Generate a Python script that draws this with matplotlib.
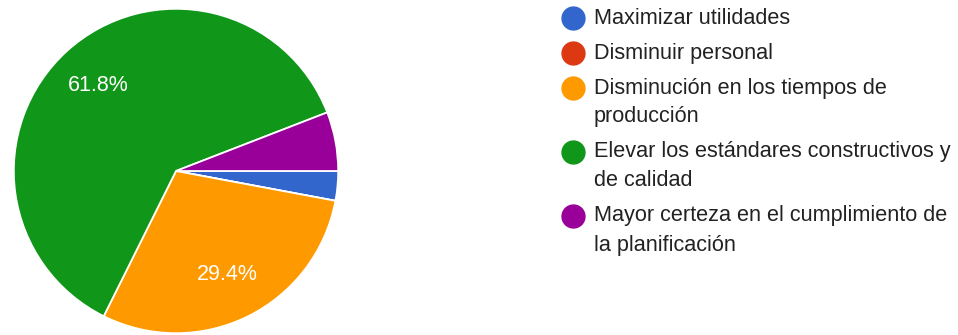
import matplotlib
matplotlib.use("Agg")
import matplotlib.pyplot as plt

labels = [
    "Maximizar utilidades",
    "Disminuir personal",
    "Disminución en los tiempos de\nproducción",
    "Elevar los estándares constructivos y\nde calidad",
    "Mayor certeza en el cumplimiento de\nla planificación",
]
counts = [1, 0, 10, 21, 2]
colors = ["#3366cc", "#dc3912", "#ff9900", "#109618", "#990099"]

plt.rcParams['font.family'] = ['Liberation Sans', 'DejaVu Sans']

W, H = 958, 335
fig = plt.figure(figsize=(W / 100, H / 100), dpi=100)

# pie: center (176,171) px, radius 163 px
cx, cy, r = 176, 171, 163
ax = fig.add_axes([(cx - r) / W, (H - cy - r) / H, 2 * r / W, 2 * r / H])


def pct(p):
    return "%.1f%%" % p if p >= 10 else ""


ax.pie(counts, colors=colors, startangle=0, counterclock=False,
       autopct=pct, pctdistance=0.71, radius=1,
       wedgeprops=dict(edgecolor="white", linewidth=1.3),
       textprops=dict(color="white", fontsize=15.5))
ax.set_xlim(-1.005, 1.005)
ax.set_ylim(-1.005, 1.005)
ax.set_aspect("equal")
ax.axis("off")

# legend drawn by hand, first line of each entry aligned with its dot
y = 18
for lab, col in zip(labels, colors):
    fig.lines.append(plt.Line2D([573 / W], [1 - y / H], marker="o", markersize=16.5,
                                color=col, transform=fig.transFigure))
    lines = lab.split("\n")
    for i, line in enumerate(lines):
        fig.text(594 / W, 1 - (y + 29 * i) / H, line, fontsize=15.6,
                 color="#222222", va="center", ha="left")
    y += 29 * (len(lines) - 1) + 35

fig.savefig("out.png", dpi=100, facecolor="white")
